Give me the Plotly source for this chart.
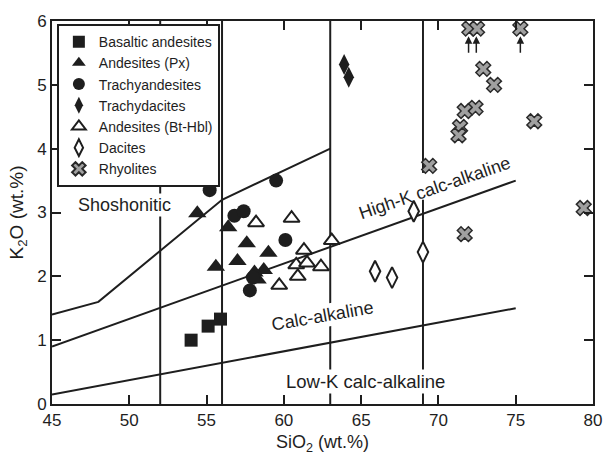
import plotly.graph_objects as go

# ---------------- data ----------------
basaltic_x = [54.0, 55.1, 55.9]
basaltic_y = [1.00, 1.22, 1.33]

andesite_px_x = [54.4, 56.4, 57.6, 59.0, 57.0, 55.6, 58.7, 58.1, 58.3]
andesite_px_y = [2.99, 2.77, 2.52, 2.37, 2.24, 2.15, 2.10, 2.06, 1.95]

trachyandesite_x = [55.2, 59.5, 56.8, 57.4, 60.1, 57.8, 58.0]
trachyandesite_y = [3.35, 3.50, 2.95, 3.02, 2.57, 1.78, 1.98]

trachydacite_x = [63.9, 64.2]
trachydacite_y = [5.32, 5.12]

andesite_bthbl_x = [58.2, 60.5, 63.1, 61.3, 60.8, 61.5, 62.4, 60.9, 59.7]
andesite_bthbl_y = [2.84, 2.91, 2.56, 2.41, 2.18, 2.21, 2.15, 2.00, 1.86]

dacite_x = [68.4, 69.0, 65.9, 67.0]
dacite_y = [3.02, 2.38, 2.08, 1.98]

rhyolite_x = [72.0, 72.5, 75.3, 72.9, 73.6, 72.4, 71.7, 71.4, 71.3, 76.2, 79.4, 69.4, 71.7]
rhyolite_y = [5.88, 5.88, 5.88, 5.25, 5.00, 4.64, 4.59, 4.34, 4.21, 4.43, 3.07, 3.73, 2.66]

# arrows (values above scale) under top rhyolites
arrow_x = [71.95, 72.45, 75.3]
arrow_tip_y = 5.76
arrow_tail_y = 5.48

# classification boundaries
shosh_x = [45, 48, 56, 63]
shosh_y = [1.4, 1.6, 3.2, 4.0]
highk_x = [45, 75]
highk_y = [0.9, 3.5]
lowk_x = [45, 75]
lowk_y = [0.15, 1.5]
divider_x = [52, 56, 63]
# the 69 wt.% divider is interrupted by the "High-K calc-alkaline" label
divider69_x = [69, 69, None, 69, 69]
divider69_y = [0, 3.2, None, 3.62, 6]

x_ticks = [45, 50, 55, 60, 65, 70, 75, 80]
y_ticks = [0, 1, 2, 3, 4, 5, 6]

INK = "#1e1e1e"
FONT = "Liberation Sans, Arial, sans-serif"

fig = go.Figure()

# boundary lines
for bx, by in [(shosh_x, shosh_y), (highk_x, highk_y), (lowk_x, lowk_y)]:
    fig.add_trace(go.Scatter(x=bx, y=by, mode="lines", line=dict(color=INK, width=2),
                             showlegend=False, hoverinfo="skip"))
for dx in divider_x:
    fig.add_trace(go.Scatter(x=[dx, dx], y=[0, 6], mode="lines", line=dict(color=INK, width=2),
                             showlegend=False, hoverinfo="skip"))
fig.add_trace(go.Scatter(x=divider69_x, y=divider69_y, mode="lines", connectgaps=False,
                         line=dict(color=INK, width=2), showlegend=False, hoverinfo="skip"))

def add(name, xs, ys, symbol, size, fill, lw=0, lc=INK):
    fig.add_trace(go.Scatter(
        x=xs, y=ys, mode="markers", name=name,
        marker=dict(symbol=symbol, size=size, color=fill, line=dict(color=lc, width=lw)),
    ))

add("Basaltic andesites", basaltic_x, basaltic_y, "square", 13, INK)
add("Andesites (Px)", andesite_px_x, andesite_px_y, "triangle-up", 16, INK)
add("Trachyandesites", trachyandesite_x, trachyandesite_y, "circle", 14, INK)
add("Trachydacites", trachydacite_x, trachydacite_y, "diamond-tall", 15, INK)
add("Andesites (Bt-Hbl)", andesite_bthbl_x, andesite_bthbl_y, "triangle-up", 14, "white", 2)
add("Dacites", dacite_x, dacite_y, "diamond-tall", 15, "white", 2)
add("Rhyolites", rhyolite_x, rhyolite_y, "x", 13, "#a0a0a0", 1.5, "#2a2a2a")

annotations = []
for ax_ in arrow_x:
    annotations.append(dict(
        x=ax_, y=arrow_tip_y, ax=ax_, ay=arrow_tail_y, xref="x", yref="y",
        axref="x", ayref="y", text="", showarrow=True, arrowhead=2,
        arrowsize=1, arrowwidth=1.5, arrowcolor=INK))

label_font = dict(family=FONT, size=18, color=INK)
annotations += [
    dict(x=49.67, y=3.12, text="Shoshonitic", showarrow=False, xref="x", yref="y",
         font=label_font, bgcolor="white", borderpad=1),
    dict(x=69.75, y=3.39, text="High-K calc-alkaline", showarrow=False, xref="x", yref="y",
         font=label_font, textangle=-19),
    dict(x=62.5, y=1.38, text="Calc-alkaline", showarrow=False, xref="x", yref="y",
         font=label_font, bgcolor="white", textangle=-10, borderpad=1),
    dict(x=65.3, y=0.35, text="Low-K calc-alkaline", showarrow=False, xref="x", yref="y",
         font=dict(family=FONT, size=18.5, color=INK), bgcolor="white", borderpad=1),
]

fig.update_layout(
    width=614, height=461,
    margin=dict(l=52, r=15, t=14, b=53),
    paper_bgcolor="white", plot_bgcolor="white",
    font=dict(family=FONT, size=17, color=INK),
    showlegend=True,
    legend=dict(x=0.009, y=0.992, xanchor="left", yanchor="top",
                bgcolor="white", bordercolor=INK, borderwidth=2,
                font=dict(family=FONT, size=14, color=INK),
                itemsizing="constant", tracegroupgap=0),
    annotations=annotations,
)
fig.update_xaxes(
    range=[45, 80], tickvals=x_ticks, ticks="inside", ticklen=9, tickwidth=2, tickcolor=INK,
    showline=True, linewidth=2, linecolor=INK, mirror="ticks", showgrid=False, zeroline=False,
    title=dict(text="SiO<sub>2</sub> (wt.%)", font=dict(size=18), standoff=6),
)
fig.update_yaxes(
    range=[0, 6], tickvals=y_ticks, ticks="inside", ticklen=9, tickwidth=2, tickcolor=INK,
    showline=True, linewidth=2, linecolor=INK, mirror="ticks", showgrid=False, zeroline=False,
    title=dict(text="K<sub>2</sub>O (wt.%)", font=dict(size=19), standoff=8),
)

fig.write_html("out.html")
